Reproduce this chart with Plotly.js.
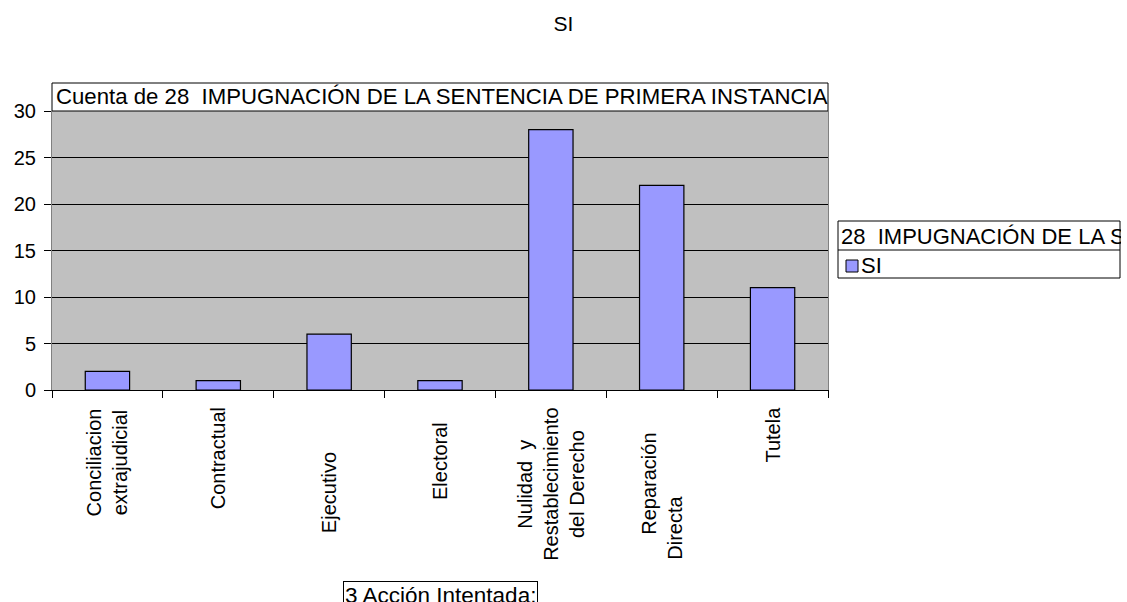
<!DOCTYPE html>
<html>
<head>
<meta charset="utf-8">
<script src="https://cdn.plot.ly/plotly-3.0.1.min.js"></script>
<style>html,body{margin:0;padding:0;background:#fff;}#chart{width:1127px;height:602px;}</style>
</head>
<body>
<div id="chart"></div>
<script>
// ---- data ----
const categories = ["Conciliacion extrajudicial", "Contractual", "Ejecutivo", "Electoral",
  "Nulidad y Restablecimiento del Derecho", "Reparación Directa", "Tutela"];
const NB = n => "\u00a0".repeat(n);
const tickLabels = ["Conciliacion<br>extrajudicial", "Contractual", "Ejecutivo", "Electoral",
  "Nulidad  y<br>Restablecimiento<br>del Derecho",
  NB(4) + "Reparación<br>Directa" + NB(12),
  "Tutela"];
const seriesName = "SI";
const values = [2, 1, 6, 1, 28, 22, 11];
const chartTitle = "SI";
const plotTitle = "Cuenta de 28  IMPUGNACIÓN DE LA SENTENCIA DE PRIMERA INSTANCIA";
const legendTitle = "28  IMPUGNACIÓN DE LA SENTENCIA DE PRIMERA INSTANCIA";
const xTitle = "3 Acción Intentada:";

// ---- layout helpers (pixel geometry) ----
const W = 1127, H = 602;
const L = 52, R = 828, T = 111, B = 390;
const pw = R - L, ph = B - T;
const px = x => (x - L) / pw;
const py = y => (B - y) / ph;
const labelCenters = [462, 458, 493, 461, 484, 495, 435];
const FONT = "Liberation Sans, Arial, sans-serif";

const annotations = [];
categories.forEach((c, i) => {
  annotations.push({
    x: c, xref: "x", y: py(labelCenters[i]), yref: "paper",
    text: tickLabels[i], textangle: -90, showarrow: false,
    xanchor: "center", yanchor: "middle", align: "center",
    font: {family: FONT, size: 20, color: "#000"}
  });
});
// plot-area title text
annotations.push({
  x: px(54), xref: "paper", y: py(97), yref: "paper", xanchor: "left", yanchor: "middle",
  text: plotTitle, showarrow: false, font: {family: FONT, size: 22.2, color: "#000"}
});
// legend title (clipped)
annotations.push({
  x: px(839), xref: "paper", y: py(236), yref: "paper", xanchor: "left", yanchor: "middle",
  width: 280, height: 27, align: "left", text: legendTitle, showarrow: false,
  font: {family: FONT, size: 22, color: "#000"}
});
annotations.push({
  x: px(859), xref: "paper", y: py(265), yref: "paper", xanchor: "left", yanchor: "middle",
  text: seriesName, showarrow: false, font: {family: FONT, size: 22, color: "#000"}
});
// x axis title box
annotations.push({
  x: 0.5, xref: "paper", y: py(581), yref: "paper", xanchor: "center", yanchor: "top",
  text: xTitle, showarrow: false, bordercolor: "#000", borderwidth: 1, borderpad: 1,
  bgcolor: "#fff", font: {family: FONT, size: 22.5, color: "#000"}
});

const shapes = [
  {type: "rect", xref: "paper", yref: "paper", x0: 0, x1: 1, y0: py(111), y1: py(83),
   line: {color: "#000", width: 1}, fillcolor: "#fff"},
  {type: "rect", xref: "paper", yref: "paper", x0: px(838), x1: px(1120), y0: py(278), y1: py(221),
   line: {color: "#000", width: 1}, fillcolor: "#fff"},
  {type: "line", xref: "paper", yref: "paper", x0: px(838), x1: px(1120), y0: py(250), y1: py(250),
   line: {color: "#000", width: 1}},
  {type: "rect", xref: "paper", yref: "paper", x0: px(846), x1: px(858), y0: py(272), y1: py(260),
   line: {color: "#000", width: 1}, fillcolor: "#9999ff"}
];

const trace = {
  type: "bar", x: categories, y: values, name: seriesName, width: 0.4,
  marker: {color: "#9999ff", line: {color: "#000", width: 1.2}},
  hoverinfo: "x+y"
};

const layout = {
  width: W, height: H,
  margin: {l: L, r: W - R, t: T, b: H - B, pad: 0},
  paper_bgcolor: "#fff", plot_bgcolor: "#c0c0c0",
  showlegend: false,
  font: {family: FONT, size: 20, color: "#000"},
  title: {text: chartTitle, x: 0.5, xref: "container", xanchor: "center",
          y: 1 - 24 / H, yref: "container", yanchor: "middle",
          font: {family: FONT, size: 21, color: "#000"}},
  xaxis: {type: "category", showticklabels: false, ticks: "outside", ticklen: 7,
          tickcolor: "#000", tickson: "boundaries", showgrid: false, zeroline: false,
          showline: true, linecolor: "#000", linewidth: 1, mirror: false, fixedrange: true},
  yaxis: {range: [0, 30], dtick: 5, ticks: "outside", ticklen: 7, tickcolor: "#000",
          showgrid: true, gridcolor: "#000", gridwidth: 1, zeroline: false,
          showline: true, linecolor: "#808080", mirror: true, ticklabelstandoff: 4,
          tickfont: {family: FONT, size: 20, color: "#000"}, fixedrange: true},
  bargap: 0.6,
  annotations: annotations,
  shapes: shapes
};

Plotly.newPlot("chart", [trace], layout, {staticPlot: true});
</script>
</body>
</html>
